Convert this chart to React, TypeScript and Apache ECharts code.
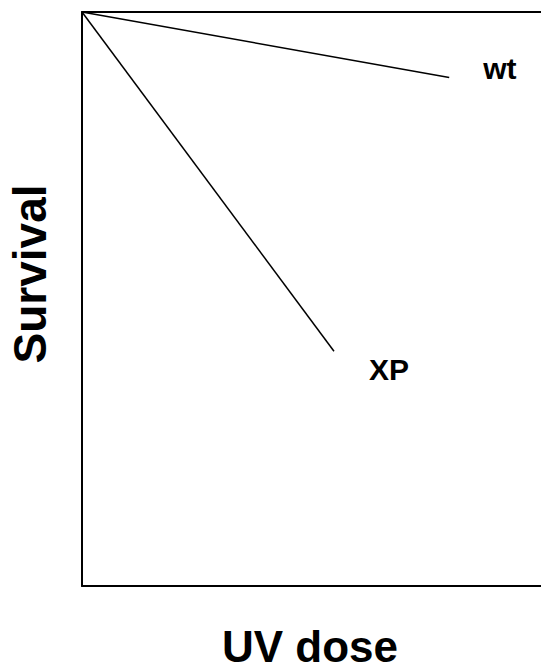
import React, { useEffect, useRef } from "react";
import * as echarts from "echarts";

const doseWt = [0, 8.0];
const survivalWt = [1, 0.886];
const doseXP = [0, 5.49];
const survivalXP = [1, 0.409];
const seriesNames = ["wt", "XP"];
const xTitle = "UV dose";
const yTitle = "Survival";

export default function App() {
  const ref = useRef<HTMLDivElement>(null);
  useEffect(() => {
    if (!ref.current) return;
    const chart = echarts.init(ref.current, null, { renderer: "svg" });
    const font = "'Liberation Sans', Arial, sans-serif";
    const mk = (name: string, xs: number[], ys: number[], offset: number[]) => ({
      name,
      type: "line",
      xAxisIndex: 0,
      data: xs.map((x, i) => [x, ys[i]]),
      symbol: "none",
      lineStyle: { color: "#000", width: 1.5 },
      endLabel: {
        show: true,
        formatter: name,
        fontFamily: font,
        fontWeight: "bold",
        fontSize: 30,
        color: "#000",
        offset,
      },
    });
    const axisCommon = {
      axisLine: { show: true, onZero: false, lineStyle: { color: "#000", width: 2 } },
      axisTick: { show: false },
      axisLabel: { show: false },
      splitLine: { show: false },
    };
    chart.setOption({
      animation: false,
      backgroundColor: "#fff",
      grid: {
        left: 82,
        top: 12,
        width: 459,
        height: 574,
      },
      xAxis: [
        { type: "value", position: "bottom", min: 0, max: 10, ...axisCommon },
        { type: "value", position: "top", min: 0, max: 10, ...axisCommon },
      ],
      yAxis: { type: "value", position: "left", min: 0, max: 1, ...axisCommon },
      graphic: [
        {
          type: "text",
          x: 310,
          y: 646,
          style: {
            text: xTitle,
            font: `bold 44px ${font}`,
            fill: "#000",
            textAlign: "center",
            textVerticalAlign: "middle",
          },
        },
        {
          type: "text",
          x: 29.5,
          y: 274,
          rotation: Math.PI / 2,
          style: {
            text: yTitle,
            font: `bold 46px ${font}`,
            fill: "#000",
            textAlign: "center",
            textVerticalAlign: "middle",
          },
        },
      ],
      series: [
        mk(seriesNames[0], doseWt, survivalWt, [26, -9]),
        mk(seriesNames[1], doseXP, survivalXP, [27, 18]),
      ],
    });
    return () => chart.dispose();
  }, []);
  return (
    <div
      ref={ref}
      style={{ position: "fixed", left: 0, top: 0, width: 541, height: 672, background: "#fff" }}
    />
  );
}
